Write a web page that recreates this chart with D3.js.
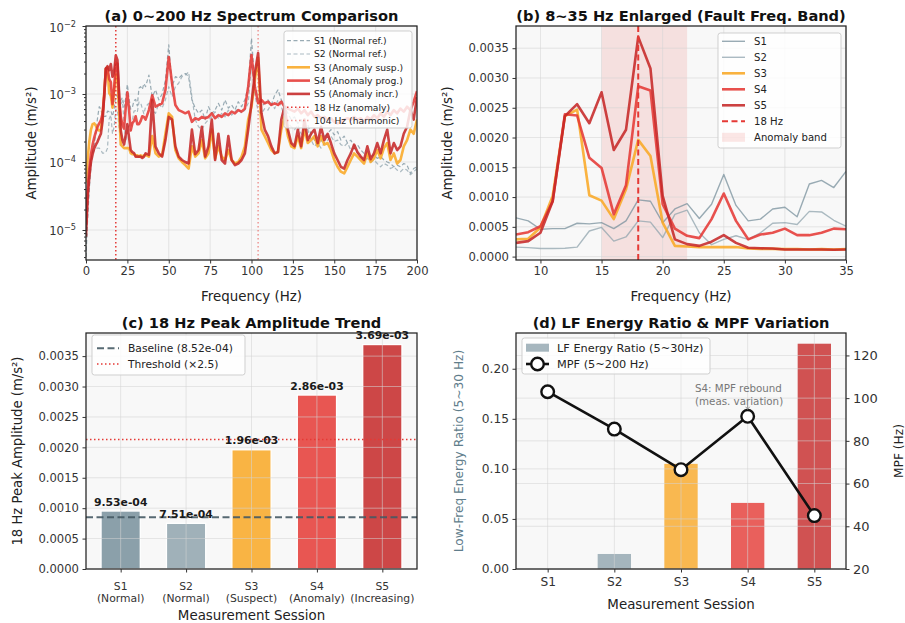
<!DOCTYPE html>
<html>
<head>
<meta charset="utf-8">
<script src="https://cdn.jsdelivr.net/npm/d3@7"></script>
<style>
  body { margin: 0; background: #fff; }
  svg { display: block; font-family: "DejaVu Sans", sans-serif; }
</style>
</head>
<body>
<svg id="fig" width="905" height="623"></svg>
<script>
// ---------------- data ----------------
// Frequency grid of the spectra (Hz): 1 Hz steps up to 35 Hz, 2 Hz steps above
const freqHz = [0,1,2,3,4,5,6,7,8,9,10,11,12,13,14,15,16,17,18,19,20,21,22,23,24,25,26,27,28,29,30,31,32,33,34,35,
  36,38,40,42,44,46,48,50,52,54,56,58,60,62,64,66,68,70,72,74,76,78,80,82,84,86,88,90,92,94,96,98,
  100,102,104,106,108,110,112,114,116,118,120,122,124,126,128,130,132,134,136,138,140,142,144,146,148,
  150,152,154,156,158,160,162,164,166,168,170,172,174,176,178,180,182,184,186,188,190,192,194,196,198,200];

// Amplitude spectra per session (m/s²)
const specS1 = [4e-6,1.5e-5,4e-5,9e-5,1.6e-4,1.8e-4,2.8e-4,4.5e-4,
  6.5e-4,6.0e-4,4.6e-4,4.7e-4,4.7e-4,5.6e-4,5.5e-4,5.7e-4,4.7e-4,6.0e-4,9.53e-4,9.3e-4,5.7e-4,8.0e-4,8.9e-4,6.4e-4,8.8e-4,1.38e-3,8.6e-4,6.0e-4,6.3e-4,8.0e-4,8.3e-4,6.7e-4,1.22e-3,1.28e-3,1.16e-3,1.43e-3,
  1.28e-3,1.9e-3,9.1e-4,1.15e-3,8.2e-4,1.0e-3,1.6e-3,5.3e-3,1.28e-3,1.8e-3,1.7e-3,1.9e-3,2.0e-3,1.8e-3,8.2e-4,6.2e-4,5.2e-4,5.8e-4,4.2e-4,6.5e-4,5.2e-4,5.8e-4,7.3e-4,5.8e-4,8.2e-4,6.2e-4,6.9e-4,5.8e-4,7.7e-4,6.5e-4,8.2e-4,1.28e-3,
  6.6e-3,1.44e-3,8.2e-4,6.5e-4,7.3e-4,8.2e-4,6.9e-4,9.6e-4,1.15e-3,8.2e-4,6.5e-4,5.2e-4,4.2e-4,4.6e-4,3.7e-4,4.2e-4,3.3e-4,3.5e-4,2.6e-4,2.1e-4,1.8e-4,2.0e-4,2.4e-4,2.6e-4,3.0e-4,
  2.5e-4,2.8e-4,2.1e-4,2.4e-4,1.9e-4,2.1e-4,1.7e-4,1.8e-4,1.5e-4,1.34e-4,1.4e-4,1.2e-4,1.27e-4,1.13e-4,1.2e-4,1.07e-4,1.0e-4,9.5e-5,8.5e-5,9e-5,8.5e-5,9.5e-5,9e-5,6.8e-5,8e-5,8.5e-5];

const specS2 = [5e-6,1.8e-5,5e-5,9e-5,1.3e-4,1.5e-4,1.6e-4,1.6e-4,
  1.6e-4,1.5e-4,1.35e-4,1.35e-4,1.4e-4,1.6e-4,4.3e-4,4.9e-4,2.6e-4,3.3e-4,6.0e-4,5.8e-4,3.2e-4,7.1e-4,7.8e-4,4.0e-4,2.0e-4,2.9e-4,3.5e-4,2.9e-4,4.0e-4,5.6e-4,5.7e-4,5.4e-4,7.6e-4,7.5e-4,6.1e-4,5.1e-4,
  6.5e-4,7.3e-4,5.8e-4,5.2e-4,7.3e-4,6.2e-4,8.2e-4,1.28e-3,9.1e-4,1.28e-3,1.44e-3,1.8e-3,1.9e-3,2.1e-3,9.1e-4,4.2e-4,3.3e-4,3.0e-4,3.7e-4,4.2e-4,4.6e-4,5.5e-4,4.4e-4,5.2e-4,4.6e-4,5.8e-4,4.9e-4,5.5e-4,6.1e-4,5.2e-4,5.8e-4,7.3e-4,
  2.8e-3,1.0e-3,5.5e-4,5.2e-4,6.1e-4,5.8e-4,7.3e-4,6.1e-4,8.2e-4,6.5e-4,4.6e-4,3.7e-4,3.3e-4,3.0e-4,3.5e-4,2.6e-4,2.4e-4,3.0e-4,2.1e-4,1.7e-4,1.9e-4,1.6e-4,1.9e-4,2.1e-4,2.4e-4,
  2.0e-4,2.1e-4,1.8e-4,1.7e-4,1.9e-4,1.5e-4,1.6e-4,1.34e-4,1.2e-4,1.07e-4,1.13e-4,1.0e-4,1.07e-4,9.5e-5,8.5e-5,9.5e-5,9e-5,8e-5,8.5e-5,7.6e-5,7.2e-5,8e-5,7.6e-5,6.5e-5,7.2e-5,8e-5];

const specS3 = [5e-5,1.1e-4,2.0e-4,3.0e-4,3.6e-4,3.7e-4,3.4e-4,3.0e-4,
  2.9e-4,3.0e-4,4.9e-4,1.02e-3,2.36e-3,2.47e-3,1.03e-3,9.4e-4,6.3e-4,1.13e-3,1.96e-3,1.69e-3,5.7e-4,1.8e-4,1.7e-4,1.6e-4,1.6e-4,1.6e-4,1.6e-4,1.35e-4,1.3e-4,1.3e-4,1.25e-4,1.25e-4,1.2e-4,1.25e-4,1.2e-4,1.25e-4,
  1.27e-4,1.2e-4,2.4e-4,1.34e-4,1.2e-4,1.27e-4,2.6e-4,5.2e-4,4.6e-4,1.5e-4,1.13e-4,1.0e-4,9e-5,8e-5,1.7e-4,1.2e-4,1.34e-4,2.1e-4,1.13e-4,1.34e-4,3.0e-4,1.13e-4,1.7e-4,1.2e-4,1.07e-4,1.5e-4,1.07e-4,9.5e-5,1.0e-4,1.2e-4,1.7e-4,4.2e-4,
  6.5e-4,1.6e-3,3.4e-3,3.0e-4,2.4e-4,1.9e-4,1.5e-4,1.34e-4,1.4e-4,3.0e-4,4.6e-4,2.4e-4,1.7e-4,1.6e-4,2.4e-4,1.6e-4,3.0e-4,1.9e-4,2.1e-4,2.4e-4,1.7e-4,2.4e-4,1.8e-4,1.9e-4,1.5e-4,
  1.07e-4,8.5e-5,7.2e-5,6.8e-5,8.5e-5,1.07e-4,1.34e-4,1.2e-4,1.07e-4,9.5e-5,1.34e-4,1.0e-4,1.13e-4,1.5e-4,1.13e-4,1.6e-4,1.9e-4,1.07e-4,1.34e-4,9.5e-5,1.07e-4,1.7e-4,2.1e-4,3.0e-4,2.6e-4,4.2e-4];

const specS4 = [1.2e-5,4e-5,8e-5,1.3e-4,1.8e-4,2.3e-4,2.8e-4,3.3e-4,
  3.7e-4,4.1e-4,5.1e-4,9.3e-4,2.39e-3,2.37e-3,1.66e-3,1.49e-3,7.1e-4,1.2e-3,2.86e-3,2.79e-3,8.8e-4,4.7e-4,3.5e-4,3.1e-4,6.3e-4,1.06e-3,6.0e-4,2.9e-4,3.7e-4,4.0e-4,4.7e-4,3.6e-4,3.6e-4,4.0e-4,4.7e-4,4.6e-4,
  4.2e-4,5.8e-4,9.6e-4,6.5e-4,6.9e-4,7.3e-4,1.15e-3,3.5e-3,1.44e-3,6.9e-4,5.8e-4,5.5e-4,5.2e-4,5.5e-4,3.9e-4,4.4e-4,4.2e-4,4.6e-4,4.4e-4,4.6e-4,5.2e-4,4.4e-4,4.9e-4,4.6e-4,5.2e-4,4.9e-4,5.5e-4,5.2e-4,5.8e-4,5.5e-4,6.1e-4,1.28e-3,
  3.75e-3,1.28e-3,7.3e-4,8.2e-4,7.3e-4,7.7e-4,6.9e-4,7.3e-4,6.9e-4,7.7e-4,6.5e-4,6.1e-4,5.8e-4,5.5e-4,6.1e-4,5.2e-4,5.8e-4,4.9e-4,5.5e-4,4.6e-4,4.9e-4,4.4e-4,4.6e-4,4.2e-4,4.4e-4,
  3.9e-4,3.7e-4,3.9e-4,4.2e-4,4.4e-4,4.2e-4,4.6e-4,4.2e-4,4.4e-4,3.9e-4,4.6e-4,4.2e-4,4.9e-4,4.4e-4,5.2e-4,4.6e-4,5.5e-4,4.9e-4,5.8e-4,5.2e-4,6.1e-4,5.5e-4,6.5e-4,5.8e-4,7.7e-4,1.1e-3];

const specS5 = [8e-6,3e-5,6e-5,1.0e-4,1.3e-4,1.6e-4,1.8e-4,2.0e-4,
  2.3e-4,2.6e-4,4.0e-4,9.3e-4,2.36e-3,2.56e-3,2.24e-3,2.76e-3,1.79e-3,2.13e-3,3.69e-3,3.16e-3,1.02e-3,2.9e-4,2.1e-4,1.8e-4,2.5e-4,3.6e-4,2.3e-4,1.5e-4,1.4e-4,1.35e-4,1.2e-4,1.2e-4,1.2e-4,1.2e-4,1.15e-4,1.2e-4,
  1.34e-4,1.27e-4,8.2e-4,1.68e-4,1.34e-4,1.2e-4,2.1e-4,4.6e-4,4.2e-4,1.7e-4,1.2e-4,1.07e-4,1.0e-4,9.5e-5,3.0e-4,1.3e-4,1.5e-4,3.3e-4,1.2e-4,1.7e-4,4.2e-4,1.07e-4,2.6e-4,1.07e-4,9.5e-5,2.4e-4,1.07e-4,9e-5,9.5e-5,1.07e-4,1.34e-4,3.0e-4,
  7.3e-4,2.0e-3,4.0e-3,5.2e-4,3.0e-4,2.4e-4,1.7e-4,1.34e-4,1.4e-4,4.2e-4,6.5e-4,3.0e-4,1.9e-4,1.7e-4,3.0e-4,1.7e-4,4.2e-4,2.1e-4,2.6e-4,3.0e-4,1.9e-4,3.3e-4,2.1e-4,2.6e-4,1.9e-4,
  1.34e-4,1.07e-4,8.5e-5,8e-5,1.07e-4,1.34e-4,1.8e-4,1.4e-4,1.2e-4,1.07e-4,1.7e-4,1.1e-4,1.34e-4,1.9e-4,1.34e-4,2.1e-4,3.0e-4,1.34e-4,1.9e-4,1.5e-4,1.7e-4,2.6e-4,3.3e-4,5.8e-4,4.2e-4,9e-4];

// Session summaries
const sessions = ["S1", "S2", "S3", "S4", "S5"];
const sessionNotes = ["(Normal)", "(Normal)", "(Suspect)", "(Anomaly)", "(Increasing)"];
const specLegendLabels = ["S1 (Normal ref.)", "S2 (Normal ref.)", "S3 (Anomaly susp.)", "S4 (Anomaly prog.)", "S5 (Anomaly incr.)"];
const peak18Hz = [9.53e-4, 7.51e-4, 1.96e-3, 2.86e-3, 3.69e-3];
const baselineAmp = 8.52e-4;
const thresholdFactor = 2.5;
const lfEnergyRatio = [0.0, 0.015, 0.105, 0.066, 0.225];
const mpfHz = [103, 85.5, 66.5, 91.5, 45];

// Marker frequencies and bands
const anomalyFreq = 18;
const harmonicFreq = 104;
const anomalyBand = [15, 22];

// Tick values
const freqTicksA = [0, 25, 50, 75, 100, 125, 150, 175, 200];
const decadeTicks = [1e-5, 1e-4, 1e-3, 1e-2];
const freqTicksB = [10, 15, 20, 25, 30, 35];
const ampTicks = [0, 0.0005, 0.0010, 0.0015, 0.0020, 0.0025, 0.0030, 0.0035];
const ratioTicks = [0, 0.05, 0.10, 0.15, 0.20];
const mpfTicks = [20, 40, 60, 80, 100, 120];

// ---------------- style ----------------
const FONT = "DejaVu Sans, sans-serif";
const COLORS = ["#78909c", "#90a4ae", "#f9a825", "#e53935", "#c62828"];
const RED = "#e53935";
const AX_BG = "#f8f8f8";
const GRID = "#d4d4d4";
const INK = "#333";

const svg = d3.select("#fig");
const spectra = [specS1, specS2, specS3, specS4, specS5];

function sci(v) {
  const [m, e] = v.toExponential(2).split("e");
  const n = +e;
  return m + "e" + (n < 0 ? "-" : "+") + String(Math.abs(n)).padStart(2, "0");
}

function makePanel(id, x0, y0, x1, y1) {
  const g = svg.append("g");
  svg.append("clipPath").attr("id", id).append("rect")
    .attr("x", x0).attr("y", y0).attr("width", x1 - x0).attr("height", y1 - y0);
  g.append("rect").attr("x", x0).attr("y", y0).attr("width", x1 - x0).attr("height", y1 - y0)
    .attr("fill", AX_BG);
  const patches = g.append("g").attr("clip-path", `url(#${id})`);
  const grid = g.append("g");
  const marks = g.append("g").attr("clip-path", `url(#${id})`);
  const top = g.append("g");
  return { g, patches, grid, marks, top, x0, y0, x1, y1 };
}

function frame(p) {
  p.top.append("rect").attr("x", p.x0).attr("y", p.y0)
    .attr("width", p.x1 - p.x0).attr("height", p.y1 - p.y0)
    .attr("fill", "none").attr("stroke", "#222").attr("stroke-width", 1.25);
}

function vGrid(p, xs, scale) {
  p.grid.selectAll(null).data(xs).join("line")
    .attr("x1", d => scale(d)).attr("x2", d => scale(d))
    .attr("y1", p.y0).attr("y2", p.y1)
    .attr("stroke", GRID).attr("stroke-width", 0.8).attr("opacity", 0.7);
}
function hGrid(p, ys, scale) {
  p.grid.selectAll(null).data(ys).join("line")
    .attr("y1", d => scale(d)).attr("y2", d => scale(d))
    .attr("x1", p.x0).attr("x2", p.x1)
    .attr("stroke", GRID).attr("stroke-width", 0.8).attr("opacity", 0.7);
}

function styleAxis(sel, size) {
  sel.select(".domain").remove();
  sel.selectAll(".tick line").attr("stroke", INK).attr("stroke-width", 1);
  sel.selectAll(".tick text").attr("fill", INK).attr("font-size", size).attr("font-family", FONT);
}

function title(text, cx, y) {
  svg.append("text").attr("x", cx).attr("y", y).attr("text-anchor", "middle")
    .attr("font-size", 14.6).attr("font-weight", "bold").attr("fill", "#111").text(text);
}
function xLabel(text, cx, y, size) {
  svg.append("text").attr("x", cx).attr("y", y).attr("text-anchor", "middle")
    .attr("font-size", size).attr("fill", "#222").text(text);
}
function yLabel(text, x, cy, size, color, rot) {
  svg.append("text").attr("transform", `translate(${x},${cy}) rotate(${rot || -90})`)
    .attr("text-anchor", "middle").attr("dy", "0.36em")
    .attr("font-size", size).attr("fill", color || "#222").text(text);
}

function legendBox(x, y, w, h) {
  svg.append("rect").attr("x", x).attr("y", y).attr("width", w).attr("height", h)
    .attr("rx", 2.5).attr("fill", "#fff").attr("fill-opacity", 0.82)
    .attr("stroke", "#cfcfcf").attr("stroke-width", 1);
}

// ================= (a) 0~200 Hz spectrum, log amplitude =================
{
  const p = makePanel("clipA", 86, 26, 417, 260);
  const x = d3.scaleLinear().domain([0, 200]).range([86, 417]);
  const y = d3.scaleLog().domain([3.62e-6, 1e-2]).range([260, 26]);

  vGrid(p, freqTicksA, x);
  hGrid(p, decadeTicks, y);

  const line = d3.line().x(d => x(d[0])).y(d => y(d[1]));
  spectra.forEach((s, i) => {
    const pts = d3.zip(freqHz, s);
    const normal = i < 2;
    p.marks.append("path").datum(pts).attr("d", line)
      .attr("fill", "none").attr("stroke", COLORS[i])
      .attr("stroke-width", normal ? 1.2 : 2.6)
      .attr("stroke-dasharray", normal ? "4,2.5" : null)
      .attr("stroke-linejoin", "round")
      .attr("opacity", normal ? 0.75 : 0.88);
  });
  [[anomalyFreq, 1], [harmonicFreq, 0.5]].forEach(([f, op]) => {
    p.marks.append("line").attr("x1", x(f)).attr("x2", x(f)).attr("y1", 26).attr("y2", 260)
      .attr("stroke", RED).attr("stroke-width", 1.5).attr("stroke-dasharray", "1.5,2.5")
      .attr("opacity", op);
  });
  frame(p);

  const ax = svg.append("g").attr("transform", "translate(0,260)")
    .call(d3.axisBottom(x).tickValues(freqTicksA).tickSize(3.5).tickPadding(3.5));
  styleAxis(ax, 11.6);

  const ay = svg.append("g").attr("transform", "translate(86,0)")
    .call(d3.axisLeft(y).tickValues(decadeTicks).tickSize(3.5).tickFormat(""));
  styleAxis(ay, 11.6);
  const minors = [];
  [1e-6, 1e-5, 1e-4, 1e-3].forEach(dec => {
    for (let k = 2; k <= 9; k++) {
      const v = k * dec;
      if (v >= 3.62e-6 && v <= 1e-2) minors.push(v);
    }
  });
  const aym = svg.append("g").attr("transform", "translate(86,0)")
    .call(d3.axisLeft(y).tickValues(minors).tickSize(2).tickFormat(""));
  styleAxis(aym, 11.6);
  decadeTicks.forEach(d => {
    const t = svg.append("text").attr("x", 76).attr("y", y(d) + 5.5)
      .attr("text-anchor", "end").attr("font-size", 11.6).attr("fill", INK);
    t.append("tspan").text("10");
    t.append("tspan").attr("dy", -5).attr("font-size", 8.2).text("\u2212" + Math.round(-Math.log10(d)));
  });

  title("(a) 0~200 Hz Spectrum Comparison", 251.5, 21);
  xLabel("Frequency (Hz)", 251.5, 301, 13.4);
  yLabel("Amplitude (m/s²)", 31, 143, 13.4);

  // legend
  legendBox(284, 31, 128, 97);
  const items = specLegendLabels.map((l, i) => ({ label: l, color: COLORS[i], w: i < 2 ? 1.2 : 2.6, dash: i < 2 ? "4,2.5" : null, op: i < 2 ? 0.75 : 0.88 }));
  items.push({ label: "18 Hz (anomaly)", color: RED, w: 1.5, dash: "1.5,2.5", op: 1 });
  items.push({ label: "104 Hz (harmonic)", color: RED, w: 1.5, dash: "1.5,2.5", op: 0.5 });
  items.forEach((it, i) => {
    const cy = 40.7 + i * 13.3;
    svg.append("line").attr("x1", 287).attr("x2", 310).attr("y1", cy).attr("y2", cy)
      .attr("stroke", it.color).attr("stroke-width", it.w).attr("stroke-dasharray", it.dash)
      .attr("opacity", it.op);
    svg.append("text").attr("x", 314).attr("y", cy + 3.3).attr("font-size", 9.2)
      .attr("fill", "#222").text(it.label);
  });
}

// ================= (b) 8~35 Hz enlarged, linear amplitude =================
{
  const p = makePanel("clipB", 516, 26, 846, 260);
  const x = d3.scaleLinear().domain([8, 35]).range([516, 846]);
  const y = d3.scaleLinear().domain([-0.000057, 0.003873]).range([260, 26]);

  p.patches.append("rect").attr("x", x(anomalyBand[0])).attr("y", 26)
    .attr("width", x(anomalyBand[1]) - x(anomalyBand[0])).attr("height", 234)
    .attr("fill", RED).attr("opacity", 0.12);

  vGrid(p, freqTicksB, x);
  hGrid(p, ampTicks, y);

  const line = d3.line().x(d => x(d[0])).y(d => y(d[1]));
  spectra.forEach((s, i) => {
    const pts = d3.zip(freqHz, s).filter(d => d[0] >= 8 && d[0] <= 35);
    const normal = i < 2;
    p.marks.append("path").datum(pts).attr("d", line)
      .attr("fill", "none").attr("stroke", COLORS[i])
      .attr("stroke-width", normal ? 1.4 : 2.6)
      .attr("stroke-linejoin", "round")
      .attr("opacity", normal ? 0.75 : 0.88);
  });
  p.marks.append("line").attr("x1", x(anomalyFreq)).attr("x2", x(anomalyFreq))
    .attr("y1", 26).attr("y2", 260)
    .attr("stroke", RED).attr("stroke-width", 2).attr("stroke-dasharray", "6,3.5");
  frame(p);

  const ax = svg.append("g").attr("transform", "translate(0,260)")
    .call(d3.axisBottom(x).tickValues(freqTicksB).tickSize(3.5).tickPadding(3.5));
  styleAxis(ax, 11.6);
  const ay = svg.append("g").attr("transform", "translate(516,0)")
    .call(d3.axisLeft(y).tickValues(ampTicks).tickSize(3.5).tickPadding(3.5).tickFormat(d3.format(".4f")));
  styleAxis(ay, 11.6);

  title("(b) 8~35 Hz Enlarged (Fault Freq. Band)", 681, 21);
  xLabel("Frequency (Hz)", 681, 301, 13.4);
  yLabel("Amplitude (m/s²)", 447, 143, 13.4);

  legendBox(718, 33, 123, 115);
  const items = sessions.map((s, i) => ({ label: s, type: "line", color: COLORS[i], w: i < 2 ? 1.4 : 2.6, op: i < 2 ? 0.75 : 0.88 }));
  items.push({ label: "18 Hz", type: "dash", color: RED, w: 2, op: 1 });
  items.push({ label: "Anomaly band", type: "patch", color: RED, op: 0.12 });
  items.forEach((it, i) => {
    const cy = 41.3 + i * 16;
    if (it.type === "patch") {
      svg.append("rect").attr("x", 722).attr("y", cy - 4.5).attr("width", 23).attr("height", 9)
        .attr("fill", it.color).attr("opacity", it.op);
    } else {
      svg.append("line").attr("x1", 722).attr("x2", 745).attr("y1", cy).attr("y2", cy)
        .attr("stroke", it.color).attr("stroke-width", it.w).attr("opacity", it.op)
        .attr("stroke-dasharray", it.type === "dash" ? "6,3.5" : null);
    }
    svg.append("text").attr("x", 754).attr("y", cy + 3.6).attr("font-size", 10.1)
      .attr("fill", "#222").text(it.label);
  });
}

// ================= (c) 18 Hz peak amplitude trend =================
{
  const p = makePanel("clipC", 86, 333, 417, 569);
  const x = d3.scaleLinear().domain([-0.53, 4.53]).range([86, 417]);
  const y = d3.scaleLinear().domain([0, 0.00388]).range([569, 333]);
  const bw = 0.6;

  p.patches.selectAll("rect").data(peak18Hz).join("rect")
    .attr("x", (d, i) => x(i - bw / 2)).attr("width", x(bw) - x(0))
    .attr("y", d => y(d)).attr("height", d => y(0) - y(d))
    .attr("fill", (d, i) => COLORS[i]).attr("fill-opacity", 0.85)
    .attr("stroke", "#fff").attr("stroke-width", 1.3);

  vGrid(p, d3.range(sessions.length), x);
  hGrid(p, ampTicks, y);

  const thr = baselineAmp * thresholdFactor;
  p.marks.append("line").attr("x1", 86).attr("x2", 417).attr("y1", y(baselineAmp)).attr("y2", y(baselineAmp))
    .attr("stroke", "#455a64").attr("stroke-width", 2).attr("stroke-dasharray", "7,3.5").attr("opacity", 0.9);
  p.marks.append("line").attr("x1", 86).attr("x2", 417).attr("y1", y(thr)).attr("y2", y(thr))
    .attr("stroke", RED).attr("stroke-width", 1.5).attr("stroke-dasharray", "1.5,2.5");
  frame(p);

  // value labels
  svg.selectAll(null).data(peak18Hz).join("text")
    .attr("x", (d, i) => x(i)).attr("y", d => y(d) - 5.5)
    .attr("text-anchor", "middle").attr("font-size", 10.8).attr("font-weight", "bold")
    .attr("fill", "#1a1a1a").text(d => sci(d));

  const ax = svg.append("g").attr("transform", "translate(0,569)")
    .call(d3.axisBottom(x).tickValues(d3.range(sessions.length)).tickSize(3.5).tickFormat(""));
  styleAxis(ax, 10.8);
  sessions.forEach((s, i) => {
    svg.append("text").attr("x", x(i)).attr("y", 590).attr("text-anchor", "middle")
      .attr("font-size", 10.8).attr("fill", INK).text(s);
    svg.append("text").attr("x", x(i)).attr("y", 601.5).attr("text-anchor", "middle")
      .attr("font-size", 10.8).attr("fill", INK).text(sessionNotes[i]);
  });
  const ay = svg.append("g").attr("transform", "translate(86,0)")
    .call(d3.axisLeft(y).tickValues(ampTicks).tickSize(3.5).tickPadding(3.5).tickFormat(d3.format(".4f")));
  styleAxis(ay, 11.6);

  title("(c) 18 Hz Peak Amplitude Trend", 251.5, 328);
  xLabel("Measurement Session", 251.5, 620, 13.4);
  yLabel("18 Hz Peak Amplitude (m/s²)", 17, 451, 13.2);

  legendBox(92, 335, 153, 40);
  [[`Baseline (${sci(baselineAmp)})`, "#455a64", 2, "7,3.5", 0.9],
   [`Threshold (\u00d7${thresholdFactor})`, RED, 1.5, "1.5,2.5", 1]].forEach(([lab, c, w, dash, op], i) => {
    const cy = 348.3 + i * 15.7;
    svg.append("line").attr("x1", 97).attr("x2", 119).attr("y1", cy).attr("y2", cy)
      .attr("stroke", c).attr("stroke-width", w).attr("stroke-dasharray", dash).attr("opacity", op);
    svg.append("text").attr("x", 128).attr("y", cy + 3.8).attr("font-size", 10.7)
      .attr("fill", "#222").text(lab);
  });
}

// ================= (d) LF energy ratio bars + MPF line =================
{
  const p = makePanel("clipD", 516, 333, 846, 569);
  const x = d3.scaleLinear().domain([-0.475, 4.475]).range([516, 846]);
  const y = d3.scaleLinear().domain([0, 0.2357]).range([569, 333]);
  const yr = d3.scaleLinear().domain([20, 130.5]).range([569, 333]);
  const bw = 0.5;

  p.patches.selectAll("rect").data(lfEnergyRatio).join("rect")
    .attr("x", (d, i) => x(i - bw / 2)).attr("width", x(bw) - x(0))
    .attr("y", d => y(d)).attr("height", d => y(0) - y(d))
    .attr("fill", (d, i) => COLORS[i]).attr("fill-opacity", 0.8);

  vGrid(p, d3.range(sessions.length), x);
  hGrid(p, ratioTicks, y);
  hGrid(p, mpfTicks, yr);

  const pts = mpfHz.map((v, i) => [i, v]);
  p.marks.append("path").datum(pts)
    .attr("d", d3.line().x(d => x(d[0])).y(d => yr(d[1])))
    .attr("fill", "none").attr("stroke", "#111").attr("stroke-width", 2.6).attr("stroke-linejoin", "round");
  p.marks.selectAll("circle").data(pts).join("circle")
    .attr("cx", d => x(d[0])).attr("cy", d => yr(d[1])).attr("r", 6.3)
    .attr("fill", "#fff").attr("stroke", "#111").attr("stroke-width", 2.4);
  frame(p);

  // note on the S4 rebound
  const s4x = x(3), s4y = yr(mpfHz[3]);
  svg.append("text").attr("x", 695).attr("y", 392).attr("font-size", 10.3).attr("fill", "#777").text("S4: MPF rebound");
  svg.append("text").attr("x", 695).attr("y", 405).attr("font-size", 10.3).attr("fill", "#777").text("(meas. variation)");
  svg.append("line").attr("x1", s4x).attr("x2", s4x).attr("y1", 405).attr("y2", s4y - 7)
    .attr("stroke", "#888").attr("stroke-width", 0.9);
  svg.append("path").attr("d", `M${s4x - 2},${s4y - 9.5} L${s4x},${s4y - 7} L${s4x + 2},${s4y - 9.5}`)
    .attr("fill", "none").attr("stroke", "#888").attr("stroke-width", 0.9);

  const ax = svg.append("g").attr("transform", "translate(0,569)")
    .call(d3.axisBottom(x).tickValues(d3.range(sessions.length)).tickSize(3.5).tickPadding(4.5)
      .tickFormat(i => sessions[i]));
  styleAxis(ax, 12.2);
  const ay = svg.append("g").attr("transform", "translate(516,0)")
    .call(d3.axisLeft(y).tickValues(ratioTicks).tickSize(3.5).tickPadding(3.5).tickFormat(d3.format(".2f")));
  styleAxis(ay, 12.2);
  const ayr = svg.append("g").attr("transform", "translate(846,0)")
    .call(d3.axisRight(yr).tickValues(mpfTicks).tickSize(3.5).tickPadding(3.5));
  styleAxis(ayr, 13);

  title("(d) LF Energy Ratio & MPF Variation", 681, 328);
  xLabel("Measurement Session", 681, 609, 13.4);
  yLabel("Low-Freq Energy Ratio (5~30 Hz)", 459, 451, 12.2, "#607d8b");
  yLabel("MPF (Hz)", 899, 451, 12.2, "#222");

  legendBox(522, 338, 188, 36);
  svg.append("rect").attr("x", 526).attr("y", 343.7).attr("width", 23).attr("height", 8)
    .attr("fill", COLORS[1]).attr("fill-opacity", 0.8);
  svg.append("text").attr("x", 557).attr("y", 351.7).attr("font-size", 11.3).attr("fill", "#222")
    .text("LF Energy Ratio (5~30Hz)");
  svg.append("line").attr("x1", 526).attr("x2", 549).attr("y1", 364).attr("y2", 364)
    .attr("stroke", "#111").attr("stroke-width", 2.6);
  svg.append("circle").attr("cx", 537.5).attr("cy", 364).attr("r", 6.3)
    .attr("fill", "#fff").attr("stroke", "#111").attr("stroke-width", 2.4);
  svg.append("text").attr("x", 557).attr("y", 368).attr("font-size", 11.3).attr("fill", "#222")
    .text("MPF (5~200 Hz)");
}
</script>
</body>
</html>
